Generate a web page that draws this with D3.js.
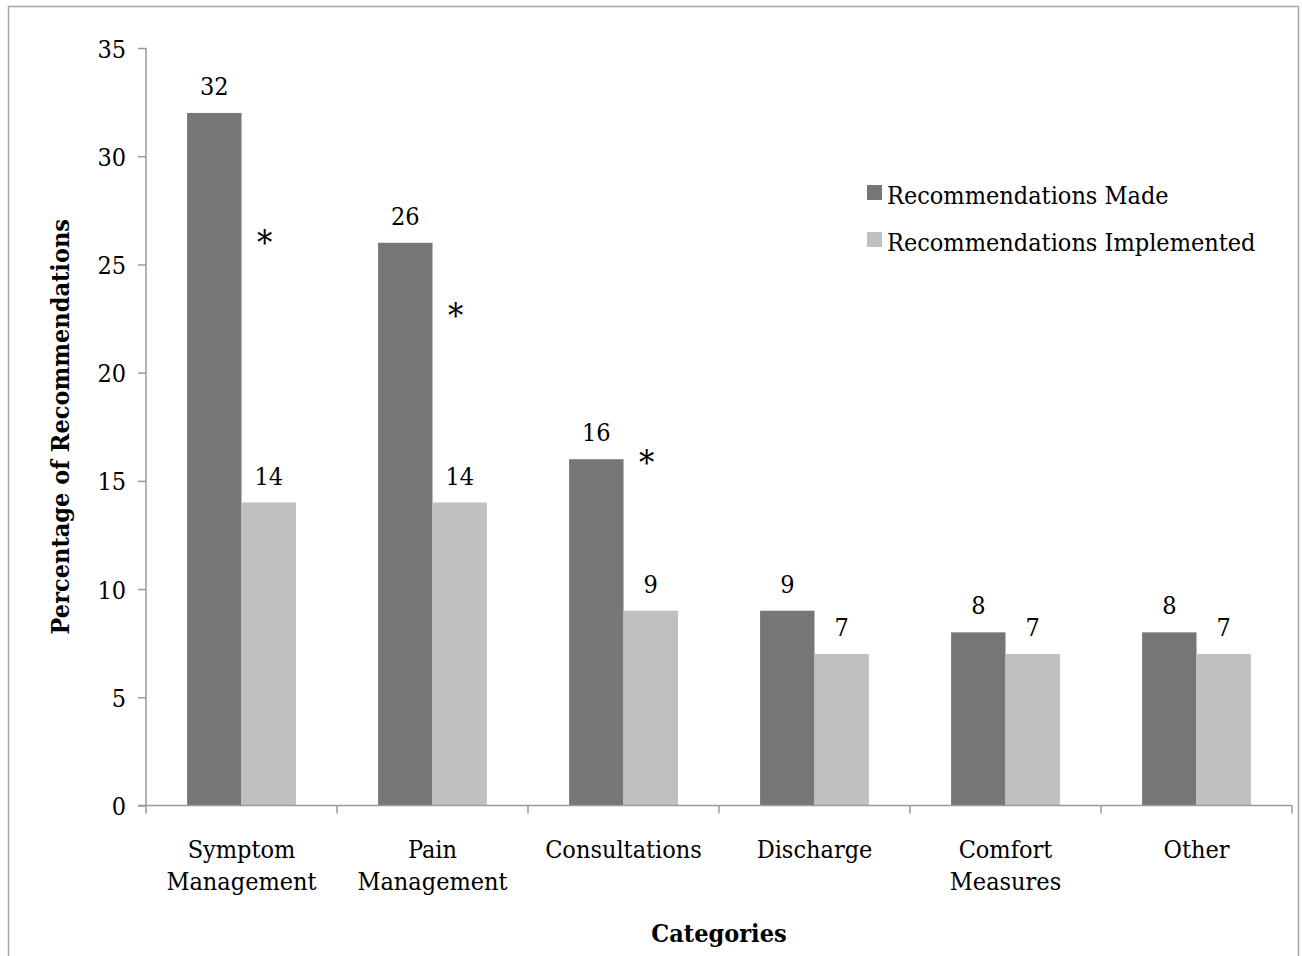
<!DOCTYPE html>
<html>
<head>
<meta charset="utf-8">
<script src="https://cdn.jsdelivr.net/npm/d3@7"></script>
<style>
  html, body { margin: 0; padding: 0; background: #fff; }
  svg { display: block; }
  text { font-family: "DejaVu Serif Condensed", "DejaVu Serif", serif; font-stretch: condensed; fill: #000; }
</style>
</head>
<body>
<svg id="chart" width="1302" height="956"></svg>
<script>
// Categories and series values (percentage of recommendations)
const categories = [["Symptom", "Management"], ["Pain", "Management"], ["Consultations"], ["Discharge"], ["Comfort", "Measures"], ["Other"]];
const seriesNames = ["Recommendations Made", "Recommendations Implemented"];
const made = [32, 26, 16, 9, 8, 8];
const implemented = [14, 14, 9, 7, 7, 7];
// Significance markers: category index and the level at which the asterisk sits
const sigCategory = [0, 1, 2];
const sigLevel = [25.5, 22.1, 15.3];
const yTicks = [0, 5, 10, 15, 20, 25, 30, 35];

const colors = ["#767676", "#c0c0c0"];
const axisColor = "#9a9a9a";
const fontSize = 25;
const fontFamily = '"DejaVu Serif Condensed", "DejaVu Serif", serif';

const svg = d3.select("#chart");
const plotLeft = 146, plotRight = 1292, plotTop = 48, plotBottom = 805.5;

// Outer frame
svg.append("rect")
  .attr("x", 8.5).attr("y", 6.5)
  .attr("width", 1290).attr("height", 960)
  .attr("fill", "none").attr("stroke", "#a6a6a6").attr("stroke-width", 1.5);

const x = d3.scaleBand()
  .domain(d3.range(categories.length))
  .range([plotLeft, plotRight])
  .paddingInner(0).paddingOuter(0);

const inner = d3.scaleBand()
  .domain([0, 1])
  .range([0, x.bandwidth()])
  .paddingOuter(0.755).paddingInner(0);

const y = d3.scaleLinear().domain([0, 35]).range([plotBottom, plotTop]);

// Bars and value labels
const series = [made, implemented];
series.forEach((vals, s) => {
  svg.append("g").selectAll("rect")
    .data(vals)
    .join("rect")
    .attr("x", (d, i) => x(i) + inner(s))
    .attr("width", inner.bandwidth())
    .attr("y", d => y(d))
    .attr("height", d => y(0) - y(d))
    .attr("fill", colors[s]);

  svg.append("g").selectAll("text")
    .data(vals)
    .join("text")
    .attr("x", (d, i) => x(i) + inner(s) + inner.bandwidth() / 2)
    .attr("y", d => y(d) - 18)
    .attr("text-anchor", "middle")
    .attr("font-size", fontSize)
    .text(d => d);
});

// Asterisks
svg.append("g").selectAll("text")
  .data(sigCategory)
  .join("text")
  .attr("x", (c, k) => x(c) + inner(1) + inner.bandwidth() / 2 - 4)
  .attr("y", (c, k) => y(sigLevel[k]))
  .attr("text-anchor", "middle")
  .attr("font-family", '"Liberation Serif", serif')
  .attr("font-size", 34)
  .text("*");

// Y axis
const yAxis = d3.axisLeft(y).tickValues(yTicks).tickSize(8).tickPadding(12);
const gy = svg.append("g").attr("transform", `translate(${plotLeft},0)`).call(yAxis);
gy.select(".domain").attr("stroke", axisColor).attr("stroke-width", 1.5).attr("d", `M-0,${plotTop}V${plotBottom}`);
gy.selectAll(".tick line").attr("stroke", axisColor).attr("stroke-width", 1.5);
gy.selectAll(".tick text").attr("font-size", fontSize).attr("font-family", fontFamily).attr("fill", "#000").attr("dy", "0.36em");

// X axis line with boundary ticks
const boundaries = d3.range(categories.length + 1).map(i => i < categories.length ? x(i) : plotRight);
svg.append("line")
  .attr("x1", plotLeft - 8).attr("x2", plotRight)
  .attr("y1", plotBottom).attr("y2", plotBottom)
  .attr("stroke", axisColor).attr("stroke-width", 1.5);
svg.append("g").selectAll("line")
  .data(boundaries)
  .join("line")
  .attr("x1", d => d).attr("x2", d => d)
  .attr("y1", plotBottom).attr("y2", plotBottom + 8)
  .attr("stroke", axisColor).attr("stroke-width", 1.5);

// Category labels
const catG = svg.append("g").selectAll("text")
  .data(categories)
  .join("text")
  .attr("text-anchor", "middle")
  .attr("font-size", fontSize)
  .attr("x", (d, i) => x(i) + x.bandwidth() / 2)
  .attr("y", plotBottom + 52);
catG.selectAll("tspan")
  .data(d => d)
  .join("tspan")
  .attr("x", function() { return d3.select(this.parentNode).attr("x"); })
  .attr("dy", (d, j) => j === 0 ? 0 : 32)
  .text(d => d);

// Axis titles
svg.append("text")
  .attr("x", (plotLeft + plotRight) / 2)
  .attr("y", 942)
  .attr("text-anchor", "middle")
  .attr("font-size", fontSize)
  .attr("font-weight", "bold")
  .text("Categories");

svg.append("text")
  .attr("transform", `translate(69,${(plotTop + plotBottom) / 2}) rotate(-90)`)
  .attr("text-anchor", "middle")
  .attr("font-size", fontSize)
  .attr("font-weight", "bold")
  .text("Percentage of Recommendations");

// Legend
const legend = svg.append("g").attr("transform", "translate(867,185)");
const item = legend.selectAll("g")
  .data(seriesNames)
  .join("g")
  .attr("transform", (d, i) => `translate(0,${i * 47})`);
item.append("rect").attr("width", 15).attr("height", 15).attr("fill", (d, i) => colors[i]);
item.append("text").attr("x", 20).attr("y", 19).attr("font-size", fontSize).text(d => d);
</script>
</body>
</html>
